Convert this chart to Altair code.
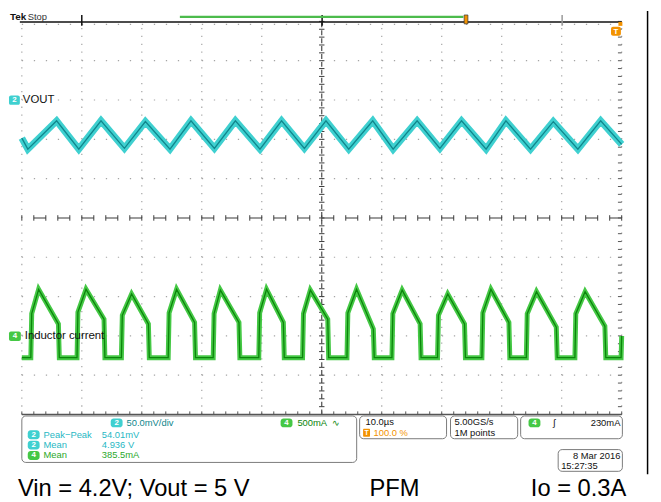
import altair as alt
import pandas as pd

# ---------------- values ----------------
# Ch2 "VOUT": ripple vertices (time in µs from the screen centre, mV around the mean)
vout_t = [-50.0, -49.0, -44.2, -40.5, -36.8, -32.9, -29.4, -25.3, -21.8, -17.9, -14.4,
          -10.3, -6.7, -2.9, 0.7, 4.5, 8.5, 11.9, 15.9, 19.7, 23.3, 27.4, 30.7, 34.8,
          38.6, 42.7, 46.5, 50.0]
vout_mv = [-4, -18, 18, -18, 18, -17, 17, -18, 18, -17, 18, -18, 18, -17, 18, -18, 18,
           -18, 18, -17, 18, -18, 18, -18, 17, -18, 18, -12]

# Ch4 "Inductor current": one entry per PFM burst (µs, mA)
burst_on_us = [-48.5, -40.8, -33.4, -25.6, -18.1, -10.5, -3.2, 4.2, 11.7, 19.3, 26.7, 34.1, 42.2]
burst_step_ma = [560, 580, 540, 570, 560, 570, 560, 570, 560, 540, 570, 560, 560]
burst_peak_us = [-47.2, -39.3, -31.7, -24.2, -16.9, -9.2, -1.9, 5.8, 13.4, 21.0, 28.2, 35.8, 43.9]
burst_peak_ma = [870, 870, 810, 870, 860, 870, 860, 870, 860, 810, 870, 840, 840]
burst_off_us = [-43.9, -36.3, -28.9, -21.2, -13.8, -6.4, 1.0, 8.6, 16.4, 23.8, 31.2, 39.1, 47.2]
burst_off_ma = [430, 490, 430, 450, 450, 450, 490, 365, 430, 430, 450, 390, 400]
last_edge_us = 49.9
last_edge_ma = 276

# readouts
ch2_scale = "50.0mV/div"
ch4_scale = "500mA"
meas_name = ["Peak\u2212Peak", "Mean", "Mean"]
meas_value = ["54.01mV", "4.936 V", "385.5mA"]
meas_chan = ["2", "2", "4"]
timebase = "10.0\u00b5s"
trig_pos = "100.0 %"
sample_rate = "5.00GS/s"
rec_len = "1M points"
trig_level = "230mA"
date_str = "8 Mar 2016"
time_str = "15:27:35"
captions = ["Vin = 4.2V; Vout = 5 V", "PFM", "Io = 0.3A"]

# ---------------- screen geometry ----------------
W, H = 653, 494
CYAN, CYAN_D = "#3fd0d0", "#10868c"
GREEN, GREEN_D = "#45c845", "#0b850b"
ORANGE = "#f39200"


def tx(px):
    return (px - 22.0) / 6.073 - 50.0


def dy(py):
    return (217.5 - py) / 39.8


XS = alt.Scale(domain=[tx(8), tx(8 + W)], nice=False, zero=False)
YS = alt.Scale(domain=[dy(8 + H), dy(8)], nice=False, zero=False)


def xe(f):
    return alt.X(f"{f}:Q", scale=XS, axis=None)


def ye(f):
    return alt.Y(f"{f}:Q", scale=YS, axis=None)


def rules(segs, **kw):
    df = pd.DataFrame(segs, columns=["x", "y", "x2", "y2"])
    return alt.Chart(df).mark_rule(**kw).encode(x=xe("x"), y=ye("y"), x2="x2", y2="y2")


def prules(segs, **kw):  # segments given in screen pixels of the reference
    return rules([(tx(a), dy(b), tx(c), dy(d)) for a, b, c, d in segs], **kw)


def rects(rows, **kw):
    df = pd.DataFrame([(tx(a), dy(b), tx(c), dy(d), col) for a, b, c, d, col in rows],
                      columns=["x", "y", "x2", "y2", "c"])
    return alt.Chart(df).mark_rect(**kw).encode(
        x=xe("x"), y=ye("y"), x2="x2", y2="y2", fill=alt.Fill("c:N", scale=None))


def outlines(rows, **kw):
    df = pd.DataFrame([(tx(a), dy(b), tx(c), dy(d)) for a, b, c, d in rows],
                      columns=["x", "y", "x2", "y2"])
    return alt.Chart(df).mark_rect(fill="white", fillOpacity=0, **kw).encode(
        x=xe("x"), y=ye("y"), x2="x2", y2="y2")


def texts(rows, align="left", size=10, weight="normal", font="Liberation Sans",
          baseline="middle"):
    df = pd.DataFrame([(tx(a), dy(b), s, c) for a, b, s, c in rows],
                      columns=["x", "y", "label", "c"])
    return alt.Chart(df).mark_text(align=align, baseline=baseline, fontSize=size,
                                   fontWeight=weight, font=font).encode(
        x=xe("x"), y=ye("y"), text="label:N", color=alt.Color("c:N", scale=None))


layers = []

# ---- graticule ----
majors = [-50, -40, -30, -20, -10, 10, 20, 30, 40, 50]
layers.append(rules([(t, -5, t, 5) for t in majors], color="#a5a5a5", strokeWidth=1.2,
                    strokeDash=[1.3, 6.66]))
rows_y = [k for k in range(-4, 5) if k != 0] + [dy(21.5)]
layers.append(rules([(-50, k, 50, k) for k in rows_y], color="#a5a5a5", strokeWidth=1.2,
                    strokeDash=[1.3, 10.85]))
# centre lines with minor ticks
layers.append(rules([(0, -5, 0, 5)], color="#3a3a3a", strokeWidth=1.1, strokeDash=[5, 3]))
layers.append(rules([(-50, 0, 50, 0)], color="#3a3a3a", strokeWidth=1.1,
                    strokeDash=[12.15, 12.15], strokeDashOffset=12.15))
layers.append(rules([(-0.45, k / 5, 0.45, k / 5) for k in range(-25, 26)],
                    color="#3a3a3a", strokeWidth=1))
layers.append(rules([(-50 + 2 * k, -0.07, -50 + 2 * k, 0.07) for k in range(51)],
                    color="#3a3a3a", strokeWidth=1))
# bottom edge with ticks, right edge ticks
layers.append(rules([(-50, -5, 50, -5)], color="#555555", strokeWidth=1.6))
layers.append(rules([(-50 + 2 * k, -5, -50 + 2 * k, -4.92) for k in range(51)],
                    color="#555555", strokeWidth=1))
layers.append(rules([(tx(625.5), k / 5, 50, k / 5) for k in range(-25, 26)],
                    color="#555555", strokeWidth=1))

# ---- record view bar on top ----
layers.append(prules([(20, 19, 629.5, 19)], color="#111111", strokeWidth=1.5))
layers.append(prules([(82.7, 12, 82.7, 23), (326, 12, 326, 23)], color="#111111",
                     strokeWidth=1.5))
layers.append(prules([(569, 12, 569, 23)], color="#999999", strokeWidth=1.5))
layers.append(prules([(182, 14, 469, 14)], color="#4cbb4c", strokeWidth=2.2))
layers.append(rects([(469.8, 12, 473.6, 21, ORANGE)], stroke="#333333", strokeWidth=0.7))
# outer frame (right side)
layers.append(prules([(655.5, 8, 655.5, 477)], color="#000000", strokeWidth=1.5))

# trigger marker
layers.append(rects([(618.5, 24, 628.5, 33, ORANGE)], cornerRadius=2))
layers.append(texts([(623.5, 28.8, "T", "white")], align="center", size=8, weight="bold"))
layers.append(rects([(626, 19, 630, 23, ORANGE)]))

# ---- waveforms ----
vout = pd.DataFrame({"t": vout_t, "mv": vout_mv})
vout["y"] = dy(133.5) + vout["mv"] / 50.0
vout["i"] = range(len(vout))
for col, wdt in [(CYAN, 7.0), (CYAN_D, 1.3)]:
    layers.append(alt.Chart(vout).mark_line(color=col, strokeWidth=wdt).encode(
        x=xe("t"), y=ye("y"), order="i:Q"))

cur_t, cur_ma = [-50.0], [0.0]
for k in range(len(burst_on_us)):
    cur_t += [burst_on_us[k], burst_on_us[k] + 0.15, burst_peak_us[k], burst_off_us[k],
              burst_off_us[k] + 0.15]
    cur_ma += [0, burst_step_ma[k], burst_peak_ma[k], burst_off_ma[k], 0]
cur_t += [last_edge_us, 50.0]
cur_ma += [0, last_edge_ma]
cur = pd.DataFrame({"t": cur_t, "ma": cur_ma})
cur["y"] = dy(359) + cur["ma"] / 500.0
cur["i"] = range(len(cur))
for col, wdt in [(GREEN, 5.0), (GREEN_D, 1.3)]:
    layers.append(alt.Chart(cur).mark_line(color=col, strokeWidth=wdt).encode(
        x=xe("t"), y=ye("y"), order="i:Q"))

# ---- left labels ----
layers.append(texts([(10, 14.5, "Tek", "#111111")], size=10, weight="bold"))
layers.append(texts([(28, 14.5, "Stop", "#333333")], size=9.5))
layers.append(rects([(9, 93.5, 20, 103, CYAN), (9, 332.5, 21, 342, GREEN)], cornerRadius=2))
layers.append(texts([(14.5, 98.5, "2", "white"), (15, 337.5, "4", "white")],
                    align="center", size=8, weight="bold"))
layers.append(texts([(23, 98.5, "VOUT", "#111111"), (25, 337.5, "Inductor current", "#111111")],
                    size=11.5))

# ---- readout panel ----
layers.append(outlines([(22, 418, 361, 465), (364, 418, 452, 441), (456, 418, 524, 441),
                        (527, 418, 630, 441), (565, 452, 630, 474)],
                       stroke="#7a7a7a", strokeWidth=1, cornerRadius=4))
badges = [(112, 420.5, 124, 429.5, CYAN), (284, 420.5, 296, 429.5, GREEN),
          (535, 420.5, 547, 429.5, GREEN)]
row_y = [437, 447.5, 458]
for cy, ch in zip(row_y, meas_chan):
    badges.append((28, cy - 4.5, 40, cy + 4.5, CYAN if ch == "2" else GREEN))
layers.append(rects(badges, cornerRadius=3))
num = [(118, 425, "2", "white"), (290, 425, "4", "white"), (541, 425, "4", "white")]
for cy, ch in zip(row_y, meas_chan):
    num.append((34, cy, ch, "white"))
layers.append(texts(num, align="center", size=8, weight="bold"))
ro = [(128, 425, ch2_scale, CYAN_D), (301, 425, ch4_scale, GREEN_D),
      (336, 425, "\u223f", GREEN_D),
      (370, 424.5, timebase, "#111111"), (378, 435, trig_pos, ORANGE),
      (460, 424.5, sample_rate, "#111111"), (460, 435, rec_len, "#111111"),
      (560, 425, "\u0283", "#111111"), (568, 469, time_str, "#111111")]
for cy, ch, nm, val in zip(row_y, meas_chan, meas_name, meas_value):
    c = "#1fb8c4" if ch == "2" else "#2aa82a"
    ro += [(44, cy, nm, c), (103, cy, val, c)]
layers.append(texts(ro, size=9.5))
layers.append(rects([(367.5, 431, 374.5, 439, ORANGE)], cornerRadius=1))
layers.append(texts([(371, 435.3, "T", "white")], align="center", size=7, weight="bold"))
layers.append(texts([(628, 425, trig_level, "#111111"), (628, 459, date_str, "#111111")],
                    align="right", size=9.5))

# ---- captions ----
layers.append(texts([(18, 499, captions[0], "#000000"), (374, 499, captions[1], "#000000")],
                    size=24, baseline="alphabetic"))
layers.append(texts([(634, 499, captions[2], "#000000")], align="right", size=24,
                    baseline="alphabetic"))

chart = alt.layer(*layers).properties(
    width=W, height=H, padding=0, background="white",
    autosize=alt.AutoSizeParams(type="none"),
).configure_view(stroke=None)

chart.save("out.html", embed_options={"renderer": "svg", "actions": False})
